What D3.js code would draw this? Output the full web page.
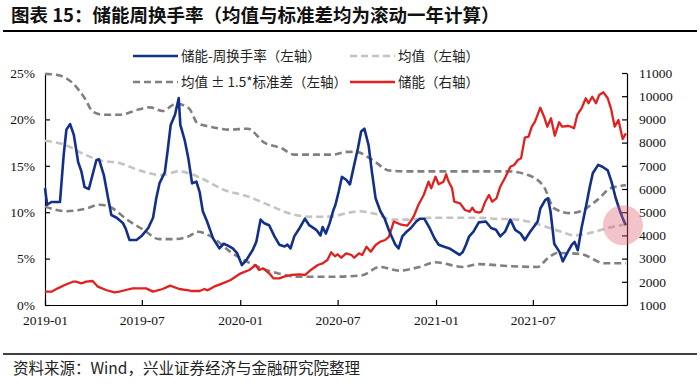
<!DOCTYPE html>
<html>
<head>
<meta charset="utf-8">
<script src="https://cdn.jsdelivr.net/npm/d3@7"></script>
<style>
  body { margin: 0; background: #fff; }
  svg { display: block; }
</style>
</head>
<body>
<div id="chart"></div>
<script>
// storage turnover chart, weekly points
var w = 700, h = 384;
var margin = {top: 73, bottom: 79, left: 45, right: 73};

var titleText = "图表 15：储能周换手率（均值与标准差均为滚动一年计算）";
var sourceText = "资料来源：Wind，兴业证券经济与金融研究院整理";
var legendNames = ["储能-周换手率（左轴）", "均值（左轴）", "均值 ± 1.5*标准差（左轴）", "储能（右轴）"];
var xTicks = ["2019-01-01", "2019-07-01", "2020-01-01", "2020-07-01", "2021-01-01", "2021-07-01"];
var leftTicks = [0, 0.05, 0.10, 0.15, 0.20, 0.25];
var rightTicks = [1000, 2000, 3000, 4000, 5000, 6000, 7000, 8000, 9000, 10000, 11000];

// 储能-周换手率 (%)
var turnover = [
  ["2019-01-01",12.6],["2019-01-05",10.8],["2019-01-13",11.1],["2019-01-29",11.1],["2019-02-05",16.2],
  ["2019-02-10",18.9],["2019-02-17",19.5],["2019-02-24",18.3],["2019-03-04",15.4],["2019-03-10",14.4],
  ["2019-03-16",12.7],["2019-03-24",12.5],["2019-04-07",15.6],["2019-04-12",15.7],["2019-04-21",14.0],
  ["2019-04-29",11.5],["2019-05-05",9.7],["2019-05-15",9.4],["2019-05-27",8.8],["2019-06-01",8.2],
  ["2019-06-08",7.0],["2019-06-21",7.0],["2019-06-30",7.4],["2019-07-13",8.3],["2019-07-22",9.4],
  ["2019-07-28",11.5],["2019-08-03",13.1],["2019-08-13",14.3],["2019-08-18",16.5],["2019-08-24",19.4],
  ["2019-09-01",20.5],["2019-09-08",22.3],["2019-09-11",19.4],["2019-09-19",17.8],["2019-09-26",15.8],
  ["2019-10-03",13.1],["2019-10-11",13.3],["2019-10-17",12.2],["2019-10-23",10.1],["2019-10-31",9.0],
  ["2019-11-11",7.2],["2019-11-23",6.1],["2019-12-01",6.6],["2019-12-09",6.4],["2019-12-18",6.1],
  ["2019-12-26",5.6],["2020-01-04",4.3],["2020-01-12",4.8],["2020-01-24",5.9],["2020-01-31",6.8],
  ["2020-02-08",9.2],["2020-02-15",8.8],["2020-02-24",8.6],["2020-03-05",7.4],["2020-03-14",6.5],
  ["2020-03-24",6.3],["2020-03-29",6.5],["2020-04-04",6.1],["2020-04-11",7.4],["2020-04-21",8.3],
  ["2020-05-01",9.3],["2020-05-09",8.6],["2020-05-22",8.1],["2020-05-30",7.5],["2020-06-03",8.4],
  ["2020-06-09",7.7],["2020-06-16",8.8],["2020-06-23",10.2],["2020-06-27",10.8],["2020-07-03",12.2],
  ["2020-07-09",13.8],["2020-07-17",13.5],["2020-07-24",13.0],["2020-08-01",15.1],["2020-08-08",16.9],
  ["2020-08-14",18.7],["2020-08-20",19.0],["2020-08-28",17.2],["2020-09-03",14.4],["2020-09-10",11.5],
  ["2020-09-19",10.1],["2020-09-27",9.3],["2020-10-06",7.9],["2020-10-17",6.5],["2020-10-23",6.1],
  ["2020-10-30",7.4],["2020-11-07",7.9],["2020-11-15",8.3],["2020-11-25",9.0],["2020-12-02",9.3],
  ["2020-12-10",9.3],["2020-12-20",8.3],["2020-12-29",7.2],["2021-01-06",6.5],["2021-01-15",6.3],
  ["2021-01-26",6.1],["2021-02-06",5.7],["2021-02-14",5.4],["2021-02-20",5.7],["2021-02-26",6.5],
  ["2021-03-04",7.4],["2021-03-12",7.9],["2021-03-22",8.9],["2021-04-04",9.0],["2021-04-14",8.3],
  ["2021-04-23",8.1],["2021-05-01",7.4],["2021-05-10",7.9],["2021-05-20",9.2],["2021-05-29",8.1],
  ["2021-06-08",7.7],["2021-06-16",7.0],["2021-06-26",7.9],["2021-07-05",8.6],["2021-07-10",9.0],
  ["2021-07-15",10.4],["2021-07-24",11.3],["2021-07-29",11.5],["2021-08-03",10.1],["2021-08-10",6.6],
  ["2021-08-20",5.7],["2021-08-26",4.7],["2021-09-04",5.7],["2021-09-12",6.5],["2021-09-17",6.8],
  ["2021-09-23",5.9],["2021-09-30",8.3],["2021-10-09",10.8],["2021-10-15",12.6],["2021-10-21",14.2],
  ["2021-10-31",15.1],["2021-11-08",14.9],["2021-11-18",14.5],["2021-11-25",13.3],["2021-12-03",11.5],
  ["2021-12-11",10.1],["2021-12-17",9.2],["2021-12-22",8.6]
];

// 均值 (%)
var rollMean = [
  ["2019-01-01",17.7],["2019-02-10",17.2],["2019-03-13",16.3],["2019-04-13",15.6],["2019-05-20",15.3],
  ["2019-06-27",14.5],["2019-08-07",14.0],["2019-09-07",14.4],["2019-09-27",14.2],["2019-10-26",13.5],
  ["2019-12-02",12.4],["2020-01-15",11.7],["2020-02-22",10.8],["2020-04-06",9.8],["2020-05-13",9.5],
  ["2020-06-23",9.55],["2020-07-17",9.9],["2020-08-10",10.1],["2020-09-10",9.8],["2020-10-12",9.2],
  ["2020-11-12",9.2],["2020-12-18",9.4],["2021-01-26",9.4],["2021-03-22",9.4],["2021-04-20",9.3],
  ["2021-06-02",9.2],["2021-07-16",8.6],["2021-08-23",7.9],["2021-09-16",7.5],["2021-10-11",7.7],
  ["2021-11-18",8.3],["2021-12-22",8.7]
];

// 均值+1.5*标准差 (%)
var bandUpper = [
  ["2019-01-01",24.9],["2019-01-23",24.8],["2019-02-22",23.9],["2019-03-16",22.3],["2019-04-01",20.8],
  ["2019-04-20",20.5],["2019-05-20",20.5],["2019-06-27",21.1],["2019-07-16",21.3],["2019-08-09",20.9],
  ["2019-09-03",21.7],["2019-09-27",21.2],["2019-10-13",19.6],["2019-11-07",19.2],["2019-12-14",18.9],
  ["2020-01-15",19.0],["2020-02-15",17.5],["2020-03-18",16.9],["2020-04-11",16.2],["2020-06-23",16.2],
  ["2020-07-17",16.5],["2020-08-04",16.5],["2020-09-05",15.6],["2020-10-05",14.5],["2020-11-12",14.4],
  ["2021-03-22",14.4],["2021-05-15",14.4],["2021-06-22",14.0],["2021-07-22",12.7],["2021-08-10",10.4],
  ["2021-09-10",9.9],["2021-09-28",10.1],["2021-10-29",11.3],["2021-11-24",12.6],["2021-12-22",12.9]
];

// 均值-1.5*标准差 (%)
var bandLower = [
  ["2019-01-01",10.6],["2019-02-10",10.1],["2019-03-19",10.4],["2019-04-13",10.8],["2019-05-08",10.4],
  ["2019-06-01",9.3],["2019-07-04",8.1],["2019-08-03",7.1],["2019-08-28",7.1],["2019-09-27",7.4],
  ["2019-10-13",7.9],["2019-11-07",7.4],["2019-12-14",5.7],["2020-01-27",4.3],["2020-03-12",3.4],
  ["2020-04-19",3.05],["2020-06-23",3.05],["2020-08-16",3.2],["2020-09-17",4.1],["2020-10-24",3.7],
  ["2020-12-01",4.1],["2020-12-31",4.6],["2021-02-20",4.1],["2021-03-22",4.4],["2021-05-15",4.2],
  ["2021-07-10",4.1],["2021-07-28",5.0],["2021-08-16",5.6],["2021-09-28",5.5],["2021-11-12",4.5],
  ["2021-12-22",4.5]
];

// 储能 (右轴)
var storage = [
  ["2019-01-01",1575],["2019-01-13",1575],["2019-01-25",1718],["2019-02-07",1862],["2019-02-22",2004],
  ["2019-02-28",2004],["2019-03-10",1935],["2019-03-19",2004],["2019-03-31",2034],["2019-04-10",1790],
  ["2019-04-25",1647],["2019-05-11",1547],["2019-05-20",1575],["2019-06-01",1647],["2019-06-14",1718],
  ["2019-07-09",1718],["2019-07-22",1575],["2019-08-09",1690],["2019-08-23",1833],["2019-09-09",1690],
  ["2019-09-27",1632],["2019-10-01",1603],["2019-10-17",1603],["2019-10-26",1690],["2019-11-01",1632],
  ["2019-11-13",1790],["2019-11-29",1935],["2019-12-14",2078],["2020-01-02",2366],["2020-01-18",2509],
  ["2020-01-30",2724],["2020-02-05",2509],["2020-02-13",2580],["2020-02-24",2366],["2020-03-03",2150],
  ["2020-03-14",2150],["2020-03-23",2221],["2020-04-05",2293],["2020-04-21",2322],["2020-05-01",2293],
  ["2020-05-12",2509],["2020-05-25",2724],["2020-06-03",2796],["2020-06-12",2940],["2020-06-19",3272],
  ["2020-06-26",3100],["2020-07-01",3185],["2020-07-08",3039],["2020-07-17",3228],["2020-07-27",3155],
  ["2020-08-01",3039],["2020-08-10",3228],["2020-08-16",3155],["2020-08-24",3513],["2020-09-01",3297],
  ["2020-09-10",3586],["2020-09-19",3730],["2020-09-28",3802],["2020-10-05",3944],["2020-10-14",4591],
  ["2020-10-26",4478],["2020-11-08",4418],["2020-11-14",4591],["2020-11-20",4806],["2020-11-29",5310],
  ["2020-12-09",5741],["2020-12-18",6315],["2020-12-23",6030],["2020-12-31",6530],["2021-01-06",6203],
  ["2021-01-15",6315],["2021-01-20",6634],["2021-01-24",6345],["2021-01-31",6030],["2021-02-04",5453],
  ["2021-02-15",5382],["2021-02-24",5095],["2021-03-05",5022],["2021-03-10",5195],["2021-03-15",5022],
  ["2021-03-22",4980],["2021-03-27",5022],["2021-04-03",5453],["2021-04-10",5741],["2021-04-16",5453],
  ["2021-04-24",5598],["2021-05-01",6099],["2021-05-11",6530],["2021-05-20",6961],["2021-05-27",7034],
  ["2021-06-03",7250],["2021-06-09",7323],["2021-06-16",8211],["2021-06-23",8254],["2021-06-29",8685],
  ["2021-07-05",8901],["2021-07-15",9504],["2021-07-22",9116],["2021-07-28",8685],["2021-08-04",9047],
  ["2021-08-11",8297],["2021-08-19",8875],["2021-08-25",8685],["2021-09-04",8716],["2021-09-10",8685],
  ["2021-09-16",8616],["2021-09-22",9190],["2021-09-30",9477],["2021-10-08",9910],["2021-10-13",9694],
  ["2021-10-20",9978],["2021-10-27",9694],["2021-11-02",10052],["2021-11-10",10168],["2021-11-18",9910],
  ["2021-11-24",9477],["2021-12-01",8685],["2021-12-08",8974],["2021-12-16",8155],["2021-12-22",8400]
];

var parse = d3.timeParse("%Y-%m-%d");
var cjk = "'Noto Sans CJK SC', 'Noto Sans', sans-serif";
var serif = "'Liberation Serif', 'DejaVu Serif', serif";

var svg = d3.select("#chart").append("svg")
            .attr("width", w)
            .attr("height", h);

// title + rules
svg.append("text")
   .attr("x", 11).attr("y", 22)
   .style("font-family", cjk).style("font-size", "18.5px").style("font-weight", "bold")
   .style("fill", "#111")
   .text(titleText);
svg.append("line").attr("x1", 3).attr("x2", 697).attr("y1", 31).attr("y2", 31)
   .style("stroke", "#000").style("stroke-width", 2);
svg.append("line").attr("x1", 3).attr("x2", 697).attr("y1", 354).attr("y2", 354)
   .style("stroke", "#000").style("stroke-width", 1.5);
svg.append("text")
   .attr("x", 13).attr("y", 374)
   .style("font-family", cjk).style("font-size", "15.5px").style("fill", "#222")
   .text(sourceText);

var x = d3.scaleTime()
          .domain([parse("2019-01-01"), parse("2021-12-24")])
          .range([margin.left, w - margin.right]);
var yL = d3.scaleLinear().domain([0, 0.25]).range([h - margin.bottom, margin.top]);
var yR = d3.scaleLinear().domain([1000, 11000]).range([h - margin.bottom, margin.top]);

var lineL = function(curve){
  return d3.line().x(function(d){ return x(parse(d[0])); })
                  .y(function(d){ return yL(d[1] / 100); })
                  .curve(curve);
};
var lineR = d3.line().x(function(d){ return x(parse(d[0])); })
                     .y(function(d){ return yR(d[1]); });

// axes
var axL = svg.append("g")
   .attr("transform", "translate(" + margin.left + ",0)")
   .call(d3.axisLeft(yL).tickValues(leftTicks).tickFormat(d3.format(".0%"))
           .tickSize(-5).tickSizeOuter(0).tickPadding(10));
var axR = svg.append("g")
   .attr("transform", "translate(" + (w - margin.right) + ",0)")
   .call(d3.axisRight(yR).tickValues(rightTicks).tickFormat(d3.format("d"))
           .tickSize(-5).tickSizeOuter(0).tickPadding(12));
var axB = svg.append("g")
   .attr("transform", "translate(0," + (h - margin.bottom) + ")")
   .call(d3.axisBottom(x).tickValues(xTicks.map(parse)).tickFormat(d3.timeFormat("%Y-%m"))
           .tickSize(-5).tickSizeOuter(0).tickPadding(10));

[axL, axR, axB].forEach(function(a){
  a.selectAll("text").style("font-family", serif).style("font-size", "13.5px").style("fill", "#111");
  a.selectAll("line, path").style("stroke", "#000").style("stroke-width", 1.2);
});

// series
svg.append("path").datum(rollMean).attr("d", lineL(d3.curveMonotoneX))
   .style("fill", "none").style("stroke", "#c3c3c3").style("stroke-width", 2.6).style("stroke-dasharray", "7,4");
[bandUpper, bandLower].forEach(function(s){
  svg.append("path").datum(s).attr("d", lineL(d3.curveMonotoneX))
     .style("fill", "none").style("stroke", "#808080").style("stroke-width", 2.6).style("stroke-dasharray", "7,4");
});
svg.append("path").datum(storage).attr("d", lineR)
   .style("fill", "none").style("stroke", "#e0211f").style("stroke-width", 2.3).style("stroke-linejoin", "round");
svg.append("path").datum(turnover).attr("d", lineL(d3.curveLinear))
   .style("fill", "none").style("stroke", "#12308a").style("stroke-width", 2.6).style("stroke-linejoin", "round");

// highlight circle at the end
svg.append("circle").attr("cx", x(parse("2021-12-22")) - 3).attr("cy", yL(0.086))
   .attr("r", 20).style("fill", "#dc6470").style("opacity", 0.38);

// legend
var legendItems = [
  {name: legendNames[0], x: 133, y: 56, color: "#12308a", dash: null},
  {name: legendNames[1], x: 350, y: 56, color: "#c3c3c3", dash: "7,4"},
  {name: legendNames[2], x: 133, y: 82, color: "#808080", dash: "7,4"},
  {name: legendNames[3], x: 350, y: 82, color: "#e0211f", dash: null}
];
var legend = svg.selectAll("g.legend").data(legendItems).enter()
                .append("g").attr("class", "legend");
legend.append("line")
      .attr("x1", function(d){ return d.x; })
      .attr("x2", function(d){ return d.x + 45; })
      .attr("y1", function(d){ return d.y; })
      .attr("y2", function(d){ return d.y; })
      .style("stroke", function(d){ return d.color; })
      .style("stroke-width", 2.6)
      .style("stroke-dasharray", function(d){ return d.dash; });
legend.append("text")
      .attr("x", function(d){ return d.x + 48; })
      .attr("y", function(d){ return d.y + 5; })
      .style("font-family", cjk).style("font-size", "13.5px").style("fill", "#222")
      .text(function(d){ return d.name; });
</script>
</body>
</html>
